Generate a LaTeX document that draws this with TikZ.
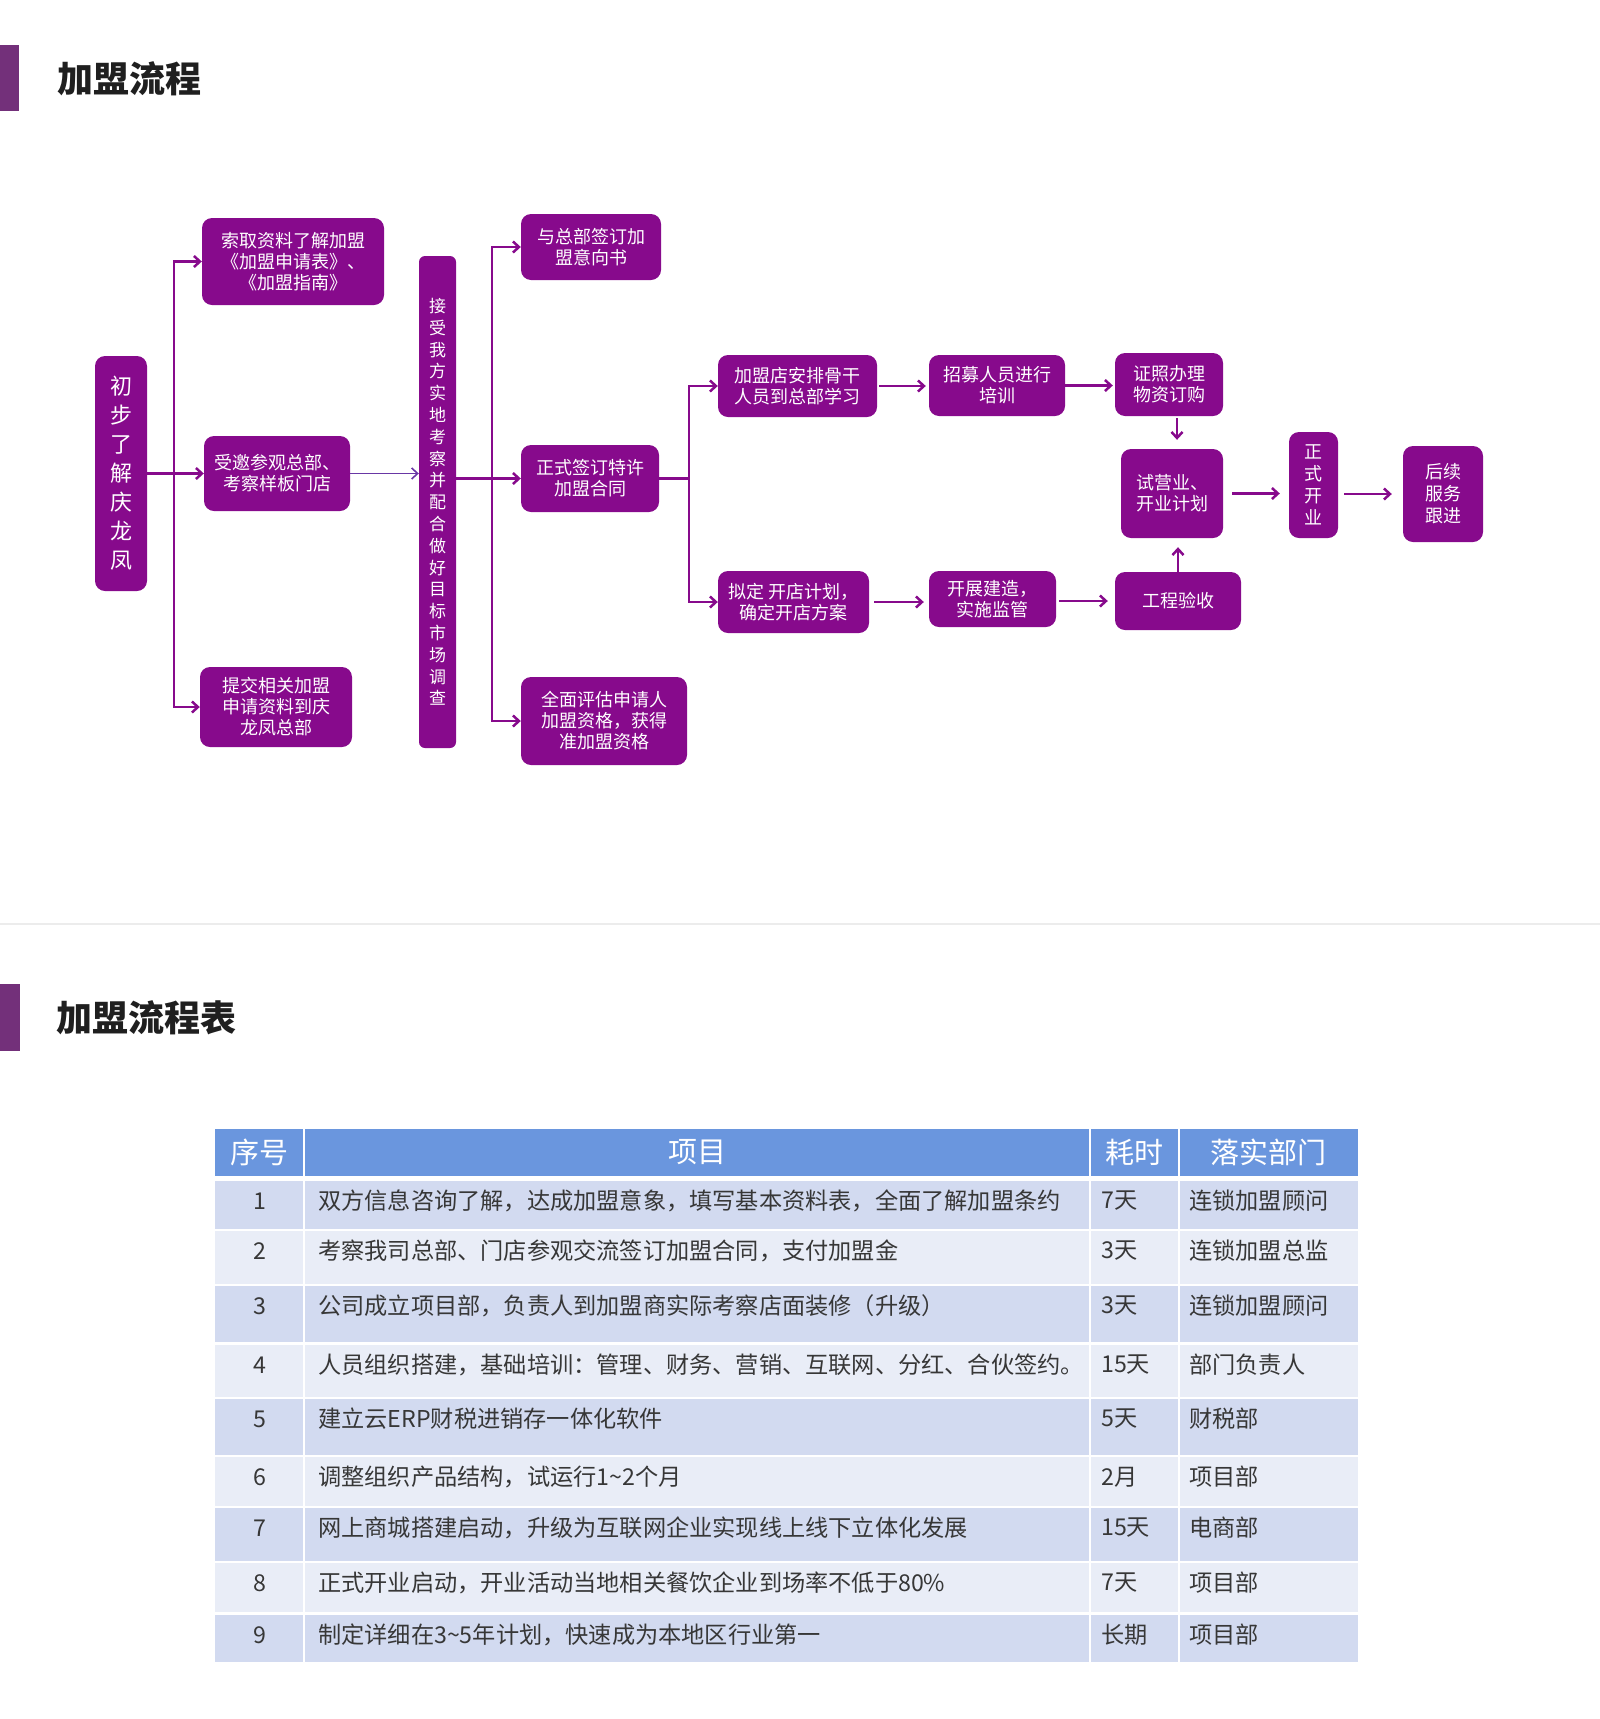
\documentclass[tikz,border=0pt]{standalone}
\usepackage{fontspec}
\usepackage{tikz}
\usetikzlibrary{arrows.meta}
\newfontfamily\cjk{Noto Sans CJK SC}
\definecolor{boxpurple}{RGB}{135,10,140}
\definecolor{barpurple}{RGB}{115,48,122}
\definecolor{linkblue}{RGB}{105,55,165}
\definecolor{headblue}{RGB}{106,150,222}
\definecolor{rowdark}{RGB}{210,218,240}
\definecolor{rowlight}{RGB}{233,237,247}
\definecolor{cellgray}{RGB}{55,55,55}
\tikzset{box/.style={draw=none,fill=boxpurple,rounded corners=10pt,text=white,align=center,inner sep=0pt,
        font=\cjk\fontsize{18}{21}\selectfont},
    vbox/.style={box,font=\cjk\fontsize{17}{21.8}\selectfont},
    link/.style={draw=boxpurple,line width=2.5pt},
    flow/.style={link,-{Straight Barb[length=6pt,width=11pt]}},
    bar/.style={fill=barpurple},
    heading/.style={anchor=west,inner sep=0pt,text=black!88,font=\cjk\bfseries\fontsize{36}{40}\selectfont},
    head/.style={text=white,inner sep=0pt,font=\cjk\fontsize{29}{32}\selectfont},
    cell/.style={text=cellgray,inner sep=0pt,font=\cjk\fontsize{23.2}{26}\selectfont}}
\begin{document}
\begin{tikzpicture}[x=1pt,y=-1pt]
	\useasboundingbox (0,0) rectangle (1600,1719);
	\fill[bar] (0,45) rectangle (19,111);
	\node[heading] (title1) at (57,79) {加盟流程};
	\node[box,minimum width=52pt,minimum height=235pt,font=\cjk\fontsize{22}{29}\selectfont] (chu) at (121,473.5) {初\\步\\了\\解\\庆\\龙\\凤};
	\node[box,minimum width=182pt,minimum height=87pt] (suoqu) at (293,261.5) {索取资料了解加盟\\《加盟申请表》、\\《加盟指南》};
	\node[box,minimum width=146pt,minimum height=75pt] (shouyao) at (277,473.5) {受邀参观总部、\\考察样板门店};
	\node[box,minimum width=152pt,minimum height=80pt] (tijiao) at (276,707) {提交相关加盟\\申请资料到庆\\龙凤总部};
	\node[vbox,minimum width=37pt,minimum height=492pt,rounded corners=6pt] (jieshou) at (437.5,502) {接\\受\\我\\方\\实\\地\\考\\察\\并\\配\\合\\做\\好\\目\\标\\市\\场\\调\\查};
	\node[box,minimum width=140pt,minimum height=66pt] (yixiang) at (591,247) {与总部签订加\\盟意向书};
	\node[box,minimum width=138pt,minimum height=67pt] (hetong) at (590,478.5) {正式签订特许\\加盟合同};
	\node[box,minimum width=166pt,minimum height=88pt] (pinggu) at (604,721) {全面评估申请人\\加盟资格，获得\\准加盟资格};
	\node[box,minimum width=159pt,minimum height=62pt] (gugan) at (797.5,386) {加盟店安排骨干\\人员到总部学习};
	\node[box,minimum width=136pt,minimum height=61pt] (zhaomu) at (997,385.5) {招募人员进行\\培训};
	\node[box,minimum width=108pt,minimum height=63pt] (zhengzhao) at (1169,384.5) {证照办理\\物资订购};
	\node[box,minimum width=102pt,minimum height=89pt] (shiying) at (1172,493.5) {试营业、\\开业计划};
	\node[box,minimum width=49pt,minimum height=106pt,font=\cjk\fontsize{18}{22}\selectfont] (kaiye) at (1313.5,485) {正\\式\\开\\业};
	\node[box,minimum width=80pt,minimum height=96pt,font=\cjk\fontsize{18}{22}\selectfont] (houxu) at (1443,494) {后续\\服务\\跟进};
	\node[box,minimum width=151pt,minimum height=62pt] (niding) at (793.5,602) {拟定 开店计划，\\确定开店方案};
	\node[box,minimum width=127pt,minimum height=56pt] (jianzao) at (992.5,599) {开展建造，\\实施监管};
	\node[box,minimum width=126pt,minimum height=58pt] (yanshou) at (1178,601) {工程验收};
	\coordinate (b1) at (174,473.5);
	\coordinate (b2) at (492,478.5);
	\coordinate (b3) at (689,478.5);
	\draw[link] (chu.east) -- (b1);
	\draw[flow] (b1) -- (shouyao.west);
	\draw[flow] (b1) |- (suoqu.west);
	\draw[flow] (b1) |- (tijiao.west);
	\draw[flow,draw=linkblue,line width=1.6pt] (shouyao.east) -- (shouyao.east -| jieshou.west);
	\draw[link] (jieshou.east |- b2) -- (b2);
	\draw[flow] (b2) |- (yixiang.west);
	\draw[flow] (b2) -- (hetong.west);
	\draw[flow] (b2) |- (pinggu.west);
	\draw[link] (hetong.east) -- (b3);
	\draw[flow] (b3) |- (gugan.west);
	\draw[flow] (b3) |- (niding.west);
	\draw[flow,shorten <=2pt,shorten >=3pt] (gugan.east) -- (gugan.east -| zhaomu.west);
	\draw[flow,shorten >=2pt] (zhaomu.east) -- (zhaomu.east -| zhengzhao.west);
	\draw[flow,shorten <=2pt,shorten >=9pt] ([xshift=8pt]zhengzhao.south) -- ([xshift=8pt]zhengzhao.south |- shiying.north);
	\draw[flow,shorten >=9pt] (yanshou.north) -- (yanshou.north |- shiying.south);
	\draw[flow,shorten <=9pt,shorten >=9pt] (shiying.east) -- (shiying.east -| kaiye.west);
	\draw[flow,shorten <=6pt,shorten >=11pt] (kaiye.east |- houxu.west) -- (houxu.west);
	\draw[flow,shorten <=5pt,shorten >=5pt] (niding.east) -- (niding.east -| jianzao.west);
	\draw[flow,shorten <=3pt,shorten >=7pt] (jianzao.east |- yanshou.west) -- (yanshou.west);
	\draw[gray!15,line width=2pt] (0,924) -- (1600,924);
	\fill[bar] (0,984) rectangle (20,1051);
	\node[heading] (title2) at (56,1018) {加盟流程表};
	\fill[headblue] (215,1129) rectangle (1358,1176);
	\node[head] (hno) at (259.5,1152.5) {序号};
	\node[head] (htask) at (697,1152.5) {项目};
	\node[head] (hdur) at (1134.5,1152.5) {耗时};
	\node[head] (hdept) at (1268.5,1152.5) {落实部门};
	\foreach \i/\ya/\yb/\rowcol/\task/\dur/\dept in {
		1/1181/1229/rowdark/双方信息咨询了解，达成加盟意象，填写基本资料表，全面了解加盟条约/7天/连锁加盟顾问,
		2/1231/1284/rowlight/考察我司总部、门店参观交流签订加盟合同，支付加盟金/3天/连锁加盟总监,
		3/1286/1342/rowdark/公司成立项目部，负责人到加盟商实际考察店面装修（升级）/3天/连锁加盟顾问,
		4/1345/1397/rowlight/人员组织搭建，基础培训：管理、财务、营销、互联网、分红、合伙签约。/15天/部门负责人,
		5/1399/1455/rowdark/建立云ERP财税进销存一体化软件/5天/财税部,
		6/1457/1506/rowlight/调整组织产品结构，试运行1\textasciitilde2个月/2月/项目部,
		7/1508/1561/rowdark/网上商城搭建启动，升级为互联网企业实现线上线下立体化发展/15天/电商部,
		8/1563/1612/rowlight/正式开业启动，开业活动当地相关餐饮企业到场率不低于80\%/7天/项目部,
		9/1615/1662/rowdark/制定详细在3\textasciitilde5年计划，快速成为本地区行业第一/长期/项目部}
	{
		\fill[\rowcol] (215,\ya) rectangle (1358,\yb);
		\node[cell] (no\i) at (259.5,\ya+20) {\i};
		\node[cell,anchor=west] (task\i) at (318,\ya+20) {\task};
		\node[cell,anchor=west] (dur\i) at (1101,\ya+20) {\dur};
		\node[cell,anchor=west] (dept\i) at (1189,\ya+20) {\dept};
	}
	\draw[white,line width=2.5pt] (304,1129) -- (304,1662);
	\draw[white,line width=2.5pt] (1090,1129) -- (1090,1662);
	\draw[white,line width=2.5pt] (1179,1129) -- (1179,1662);
\end{tikzpicture}
\end{document}
